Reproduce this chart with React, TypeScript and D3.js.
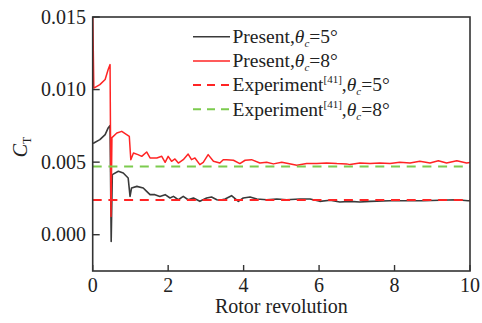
import React from "react";
import * as d3 from "d3";

// Rotor revolution vs thrust coefficient (x1e-3)
const presentT5: [number, number][] = [
  [0, 6.3], [0.03, 6.32], [0.19, 6.55], [0.33, 6.9], [0.41, 7.36], [0.46, 7.52],
  [0.49, -0.46], [0.52, 4.14], [0.68, 4.37], [0.81, 4.25], [0.94, 3.91], [0.99, 2.64],
  [1.03, 3.22], [1.17, 3.33], [1.34, 3.22], [1.43, 2.99], [1.52, 2.76], [1.65, 2.76],
  [1.78, 2.64], [1.92, 2.76], [2.05, 2.53], [2.14, 2.64], [2.27, 2.41], [2.4, 2.64],
  [2.53, 2.41], [2.67, 2.53], [2.84, 2.3], [3.02, 2.53], [3.15, 2.6], [3.29, 2.41],
  [3.37, 2.37], [3.51, 2.46], [3.68, 2.69], [3.86, 2.3], [3.99, 2.53], [4.17, 2.6],
  [4.35, 2.46], [4.61, 2.41], [4.88, 2.46], [5.14, 2.41], [5.49, 2.46], [5.76, 2.46],
  [6.02, 2.3], [6.29, 2.37], [6.55, 2.25], [6.82, 2.3], [7.08, 2.25], [7.35, 2.3],
  [7.88, 2.34], [8.32, 2.34], [8.76, 2.34], [9.2, 2.37], [9.65, 2.41], [9.95, 2.34],
  [10, 2.34],
];

const presentT8: [number, number][] = [
  [0, 15.5], [0.03, 10.1], [0.19, 10.34], [0.33, 10.69], [0.41, 11.38], [0.46, 11.72],
  [0.485, 1.26], [0.51, 6.69], [0.64, 7.01], [0.77, 7.12], [0.9, 6.9], [0.97, 6.78],
  [1.01, 5.17], [1.08, 5.63], [1.2, 5.52], [1.3, 5.4], [1.43, 5.7], [1.52, 5.29],
  [1.7, 5.29], [1.83, 5.4], [1.92, 4.99], [2.0, 5.4], [2.09, 5.06], [2.18, 5.22],
  [2.27, 4.94], [2.4, 5.17], [2.53, 5.56], [2.62, 5.17], [2.71, 5.29], [2.84, 4.83],
  [2.93, 4.99], [3.06, 5.52], [3.2, 5.06], [3.37, 4.94], [3.46, 5.17], [3.55, 5.17],
  [3.73, 5.13], [3.9, 4.9], [4.04, 5.13], [4.21, 5.17], [4.43, 4.94], [4.61, 4.99],
  [4.79, 4.88], [5.01, 4.99], [5.18, 4.9], [5.41, 4.78], [5.67, 4.9], [5.94, 4.9],
  [6.2, 4.94], [6.47, 4.9], [6.73, 4.88], [6.82, 4.83], [7.08, 4.94], [7.35, 4.9],
  [7.61, 4.94], [7.88, 4.9], [8.14, 4.99], [8.41, 4.94], [8.67, 5.06], [8.94, 4.94],
  [9.16, 5.1], [9.38, 4.94], [9.65, 5.1], [9.91, 4.94], [10, 4.97],
];

const experimentT5 = 2.4;
const experimentT8 = 4.7;

const xTicks = [0, 2, 4, 6, 8, 10];
const yTicks = [0, 5, 10, 15];
const yTickLabels = ["0.000", "0.005", "0.010", "0.015"];

const FONT = "'Times New Roman', 'Liberation Serif', 'DejaVu Serif', serif";

export default function App() {
  const W = 482, H = 323;
  const left = 92.7, right = 470, top = 17, bottom = 271;
  const x = d3.scaleLinear().domain([0, 10]).range([left, right]);
  const y = d3.scaleLinear().domain([-2.5, 15]).range([bottom, top]);
  const line = d3.line<[number, number]>().x(d => x(d[0])).y(d => y(d[1]));

  const BLACK = "#3a3a3a";
  const RED = "#ff2424";
  const GREEN = "#7ccb4e";

  const legend = [
    { color: BLACK, dash: "", label: "Present", sup: "", deg: "5°" },
    { color: RED, dash: "", label: "Present", sup: "", deg: "8°" },
    { color: RED, dash: "8,6", label: "Experiment", sup: "[41]", deg: "5°" },
    { color: GREEN, dash: "8,6", label: "Experiment", sup: "[41]", deg: "8°" },
  ];
  const legX1 = 193, legX2 = 230, legY0 = 36.7, legDy = 24.2;
  const ts = { fontFamily: FONT } as React.CSSProperties;

  return (
    <svg width={W} height={H} style={{ position: "absolute", left: 0, top: 0, background: "#fff", fontFamily: FONT }}>
      <defs>
        <clipPath id="plotclip">
          <rect x={left} y={top} width={right - left} height={bottom - top} />
        </clipPath>
      </defs>
      <g clipPath="url(#plotclip)">
        <path d={line(presentT5) || ""} fill="none" stroke={BLACK} strokeWidth={1.6} strokeLinejoin="round" />
        <path d={line(presentT8) || ""} fill="none" stroke={RED} strokeWidth={1.5} strokeLinejoin="round" />
        <line x1={x(0)} x2={x(10)} y1={y(experimentT5)} y2={y(experimentT5)} stroke={RED} strokeWidth={2} strokeDasharray="9,6.7" />
        <line x1={x(0)} x2={x(10)} y1={y(experimentT8)} y2={y(experimentT8)} stroke={GREEN} strokeWidth={2} strokeDasharray="9,6.7" />
      </g>
      {/* frame */}
      <rect x={left} y={top} width={right - left} height={bottom - top} fill="none" stroke="#333" strokeWidth={1.6} />
      {/* x ticks */}
      {xTicks.map(t => (
        <g key={"x" + t}>
          <line x1={x(t)} x2={x(t)} y1={bottom} y2={bottom - 6} stroke="#333" strokeWidth={1.4} />
          <text style={ts} x={x(t)} y={291.5} fontSize={20} textAnchor="middle" fill="#222">{t}</text>
        </g>
      ))}
      {/* y ticks */}
      {yTicks.map((t, i) => (
        <g key={"y" + t}>
          <line x1={left} x2={left + 7} y1={y(t)} y2={y(t)} stroke="#333" strokeWidth={1.4} />
          <text style={ts} x={86} y={y(t) + 6.5} fontSize={20} textAnchor="end" fill="#222">{yTickLabels[i]}</text>
        </g>
      ))}
      <text style={ts} x={x(5)} y={313} fontSize={20} textAnchor="middle" fill="#222">Rotor revolution</text>
      <text style={ts} transform={`translate(27,147) rotate(-90)`} fontSize={20} textAnchor="middle" fill="#222">
        <tspan fontStyle="italic">C</tspan>
        <tspan fontSize={12} dy={4}>T</tspan>
      </text>
      {/* legend */}
      {legend.map((l, i) => {
        const ly = legY0 + i * legDy;
        return (
          <g key={"l" + i}>
            <line x1={legX1} x2={legX2} y1={ly} y2={ly} stroke={l.color} strokeWidth={l.dash ? 2 : 1.5}
              strokeDasharray={l.dash || undefined} />
            <text style={ts} x={legX2 + 2.5} y={ly + 6.3} fontSize={19.5} fill="#222">
              {l.label}
              {l.sup ? <tspan fontSize={11} dy={-8}>{l.sup}</tspan> : null}
              <tspan dy={l.sup ? 8 : 0}>,</tspan>
              <tspan fontStyle="italic">θ</tspan>
              <tspan fontStyle="italic" fontSize={11} dy={4}>c</tspan>
              <tspan dy={-4}>={l.deg}</tspan>
            </text>
          </g>
        );
      })}
    </svg>
  );
}
